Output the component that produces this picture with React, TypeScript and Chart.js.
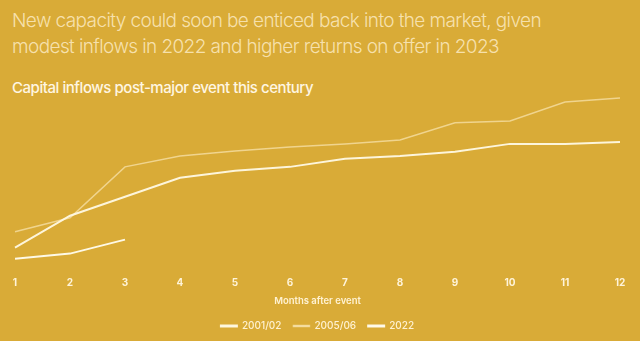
import React, { useEffect, useRef } from "react";
import { Chart, registerables } from "chart.js";

Chart.register(...registerables);

const months = ["1", "2", "3", "4", "5", "6", "7", "8", "9", "10", "11", "12"];
const inflows2001 = [12.2, 30, 40.6, 51.1, 55, 57.2, 61.7, 63.3, 65.6, 70, 70, 71.1];
const inflows2005 = [21.1, 28.9, 57.2, 63.3, 66.1, 68.3, 70, 72.2, 81.7, 82.8, 93.3, 95.6];
const inflows2022 = [6.1, 8.9, 16.7];

const BG = "#D9AB37";

export default function App() {
  const ref = useRef<HTMLCanvasElement | null>(null);

  useEffect(() => {
    document.body.style.margin = "0";
    const ctx = ref.current!;
    const chart = new Chart(ctx, {
      type: "line",
      data: {
        labels: months,
        datasets: [
          {
            label: "2001/02",
            data: inflows2001,
            borderColor: "rgba(255,249,228,0.95)",
            backgroundColor: "rgba(255,249,228,0.95)",
            borderWidth: 2,
            pointRadius: 0,
            tension: 0,
          },
          {
            label: "2005/06",
            data: inflows2005,
            borderColor: "rgba(255,240,200,0.6)",
            backgroundColor: "rgba(255,240,200,0.6)",
            borderWidth: 1.5,
            pointRadius: 0,
            tension: 0,
          },
          {
            label: "2022",
            data: inflows2022,
            borderColor: "rgba(255,251,235,0.97)",
            backgroundColor: "rgba(255,251,235,0.97)",
            borderWidth: 2,
            pointRadius: 0,
            tension: 0,
          },
        ],
      },
      options: {
        animation: false,
        responsive: false,
        maintainAspectRatio: false,
        layout: { padding: { top: 90, left: 15, right: 20, bottom: 0 } },
        plugins: {
          legend: {
            position: "bottom",
            labels: {
              color: "#FFF2D2",
              boxWidth: 16,
              boxHeight: 1,
              padding: 12,
              font: { family: "Inter", size: 10, weight: 500 },
            },
          },
          tooltip: { enabled: false },
        },
        scales: {
          x: {
            offset: false,
            grid: { display: false, drawTicks: false },
            border: { display: false },
            ticks: {
              color: "#FFF4DA",
              padding: 7,
              maxRotation: 0,
              font: { family: "Inter", size: 10, weight: 700 },
            },
            title: {
              display: true,
              text: "Months after event",
              color: "#FFF2D2",
              padding: { top: 0, bottom: 2 },
              font: { family: "Inter", size: 9.5, weight: 600 },
            },
          },
          y: {
            display: false,
            min: 0,
            max: 100,
          },
        },
      },
    });
    return () => chart.destroy();
  }, []);

  return (
    <div
      style={{
        position: "relative",
        width: 640,
        height: 341,
        background: BG,
        overflow: "hidden",
        fontFamily: "Inter, sans-serif",
      }}
    >
      <div
        style={{
          position: "absolute",
          left: 12,
          top: 8,
          fontSize: 19,
          lineHeight: "26px",
          fontWeight: 300,
          letterSpacing: "-0.6px",
          color: "rgba(255,240,205,0.8)",
          whiteSpace: "nowrap",
        }}
      >
        New capacity could soon be enticed back into the market, given
        <br />
        modest inflows in 2022 and higher returns on offer in 2023
      </div>
      <div
        style={{
          position: "absolute",
          left: 12,
          top: 78,
          fontSize: 15,
          fontWeight: 500,
          letterSpacing: "-0.45px",
          color: "#FFF6E2",
          whiteSpace: "nowrap",
        }}
      >
        Capital inflows post-major event this century
      </div>
      <canvas
        ref={ref}
        width={640}
        height={341}
        style={{ position: "absolute", left: 0, top: 0 }}
      />
    </div>
  );
}
